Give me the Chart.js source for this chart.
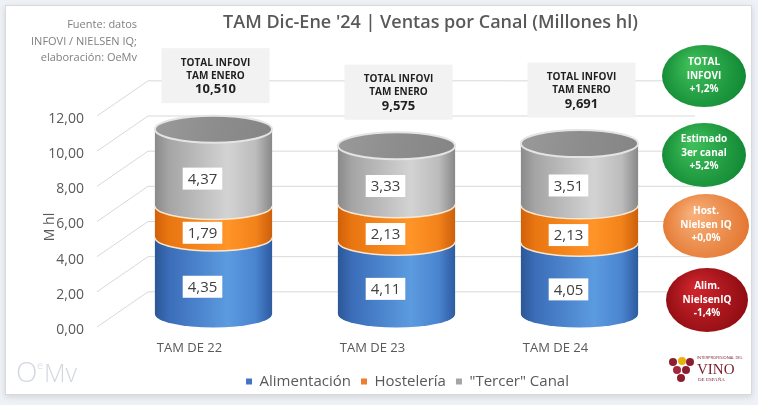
<!DOCTYPE html>
<html><head><meta charset="utf-8">
<script src="https://cdn.jsdelivr.net/npm/chart.js@4.4.1/dist/chart.umd.min.js"></script>
<style>html,body{margin:0;padding:0;background:#eef1f6;overflow:hidden}#wrap{width:758px;height:405px;position:relative}</style>
</head><body><div id="wrap"><canvas id="c" width="758" height="405"></canvas></div>
<script>
const categories = ['TAM DE 22', 'TAM DE 23', 'TAM DE 24'];
const seriesNames = ['Alimentación', 'Hostelería', '"Tercer" Canal'];
const alimentacion = [4.35, 4.11, 4.05];
const hosteleria = [1.79, 2.13, 2.13];
const tercerCanal = [4.37, 3.33, 3.51];
const totalInfovi = [10.510, 9.575, 9.691];
const totalLabel = ['TOTAL INFOVI', 'TAM ENERO'];
const badgeTexts = [
  ['TOTAL', 'INFOVI', '+1,2%'],
  ['Estimado', '3er canal', '+5,2%'],
  ['Host.', 'Nielsen IQ', '+0,0%'],
  ['Alim.', 'NielsenIQ', '-1,4%']
];
const sourceLines = ['Fuente: datos', 'INFOVI / NIELSEN IQ;', 'elaboración: OeMv'];
const yTitle = 'M hl';

const FONT = "'Open Sans', 'DejaVu Sans', sans-serif";
Chart.defaults.font.family = FONT;
Chart.defaults.color = '#595959';

const fmt = (v, d = 2) => Number(v).toFixed(d).replace('.', ',');

const segStops = [
  [[0, '#2c5797'], [0.12, '#3b6db8'], [0.62, '#5c9be0'], [0.86, '#4a84cf'], [1, '#2d5ba0']],
  [[0, '#d1600a'], [0.12, '#e97611'], [0.62, '#ff9428'], [0.86, '#f2821a'], [1, '#cc5f0c']],
  [[0, '#8a8a8a'], [0.12, '#a5a5a5'], [0.62, '#d3d3d3'], [0.86, '#bcbcbc'], [1, '#888888']]
];
function lgrad(c, l, r, stops) {
  const g = c.createLinearGradient(l, 0, r, 0);
  stops.forEach(s => g.addColorStop(s[0], s[1]));
  return g;
}

const deco = {
  id: 'deco',
  beforeDraw(chart) {
    const c = chart.ctx;
    c.save();
    c.fillStyle = '#eef1f6';
    c.fillRect(0, 0, chart.width, chart.height);
    c.shadowColor = 'rgba(0,0,0,0.12)'; c.shadowBlur = 6; c.shadowOffsetY = 2;
    c.fillStyle = '#ffffff';
    c.fillRect(5, 5, 747, 390);
    c.shadowColor = 'transparent';
    c.strokeStyle = '#d9d9d9'; c.lineWidth = 1;
    c.strokeRect(5.5, 5.5, 746, 389);
    c.restore();
  },
  afterLayout(chart) {
    chart.titleBlock.left += 76; chart.titleBlock.right += 76;
    chart.legend.left += 53; chart.legend.right += 53;
  },
  beforeDatasetsDraw(chart) {
    const c = chart.ctx, ys = chart.scales.y, a = chart.chartArea;
    const step = ys.getPixelForValue(0) - ys.getPixelForValue(2);
    c.save();
    c.strokeStyle = '#d9d9d9'; c.lineWidth = 1;
    ys.ticks.forEach(t => {
      const y0 = ys.getPixelForValue(t.value) + 13;
      c.beginPath();
      c.moveTo(a.left - 25, y0);
      c.lineTo(a.left + 26, y0 - step);
      c.lineTo(a.right + 24, y0 - step);
      c.stroke();
    });
    c.restore();
  },
  afterDatasetsDraw(chart) {
    const c = chart.ctx, ys = chart.scales.y;
    const metas = chart.data.datasets.map((d, i) => chart.getDatasetMeta(i));
    const ry = 13.5;
    c.save();
    categories.forEach((cat, j) => {
      metas.forEach((m, i) => {
        const el = m.data[j];
        const {x, y, base, width} = el.getProps(['x', 'y', 'base', 'width'], true);
        const l = x - width / 2, r = x + width / 2, rx = width / 2;
        c.beginPath();
        c.moveTo(l, y);
        c.lineTo(l, base);
        c.ellipse(x, base, rx, ry, 0, Math.PI, 0, true);
        c.lineTo(r, y);
        c.closePath();
        c.fillStyle = lgrad(c, l, r, segStops[i]);
        c.fill();
        if (i > 0) {
          c.beginPath();
          c.ellipse(x, base, rx, ry, 0, Math.PI, 0, true);
          c.strokeStyle = 'rgba(255,236,212,0.95)'; c.lineWidth = 1.5;
          c.stroke();
        }
        if (i === metas.length - 1) {
          c.beginPath();
          c.ellipse(x, y, rx, ry, 0, 0, Math.PI * 2);
          const g = c.createLinearGradient(l, y - ry, r, y + ry);
          g.addColorStop(0, '#9a9a9a'); g.addColorStop(0.5, '#8d8d8d'); g.addColorStop(1, '#858585');
          c.fillStyle = g; c.fill();
          c.strokeStyle = '#e4e4e4'; c.lineWidth = 2; c.stroke();
        }
      });
    });
    // value labels
    c.font = '15px ' + FONT;
    c.textAlign = 'center'; c.textBaseline = 'middle';
    metas.forEach((m, i) => {
      m.data.forEach((el, j) => {
        const {x, y, base} = el.getProps(['x', 'y', 'base'], true);
        const txt = fmt(chart.data.datasets[i].data[j]);
        const cx = x - 11, cy = (y + base) / 2 + 11;
        const w = c.measureText(txt).width + 10, h = 22;
        c.fillStyle = '#ffffff';
        c.fillRect(cx - w / 2, cy - h / 2, w, h);
        c.fillStyle = '#404040';
        c.fillText(txt, cx, cy + 1);
      });
    });
    // total boxes
    metas[0].data.forEach((el, j) => {
      const x = el.x + 2;
      const cy = ys.getPixelForValue(totalInfovi[j]) - 53.5;
      c.fillStyle = '#f2f2f2';
      c.fillRect(x - 54, cy - 27.5, 108, 55);
      c.fillStyle = '#1f1f1f';
      c.font = 'bold 10px ' + FONT;
      c.fillText(totalLabel[0], x, cy - 12.5);
      c.fillText(totalLabel[1], x, cy + 0.5);
      c.font = 'bold 13px ' + FONT;
      c.fillText(fmt(totalInfovi[j], 3), x, cy + 14);
    });
    c.restore();
  },
  afterDraw(chart) {
    const c = chart.ctx;
    c.save();
    // source note
    c.font = '11px ' + FONT; c.fillStyle = '#7f7f7f';
    c.textAlign = 'right'; c.textBaseline = 'middle';
    sourceLines.forEach((s, k) => c.fillText(s, 137, 25 + k * 16.5));
    // y title
    c.save();
    c.translate(50, 227); c.rotate(-Math.PI / 2);
    c.font = '14px ' + FONT; c.fillStyle = '#595959'; c.textAlign = 'center';
    c.fillText(yTitle, 0, 0);
    c.restore();
    // badges
    const geo = [[704, 76, 42, 31, 76], [704, 155, 42, 32, 153], [706, 226, 43, 32, 225], [707, 300, 41, 32, 300]];
    const cols = [['#3fbf5a', '#0e8532'], ['#3fbf5a', '#0e8532'], ['#f7b07a', '#e2722a'], ['#cf262d', '#8a0a10']];
    geo.forEach((g, k) => {
      const [cx, cy, rx, ry, ty] = g;
      const gr = c.createRadialGradient(cx - rx * 0.3, cy - ry * 0.4, 2, cx, cy, rx * 1.1);
      gr.addColorStop(0, cols[k][0]); gr.addColorStop(1, cols[k][1]);
      c.beginPath(); c.ellipse(cx, cy, rx, ry, 0, 0, Math.PI * 2);
      c.fillStyle = gr; c.fill();
      c.fillStyle = '#ffffff'; c.font = 'bold 10px ' + FONT; c.textAlign = 'center';
      badgeTexts[k].forEach((t, n) => c.fillText(t, cx, ty + (n - 1) * 13.5));
    });
    // OeMv logo
    c.fillStyle = '#d3d8e0'; c.textAlign = 'left'; c.textBaseline = 'alphabetic';
    c.font = '300 28px ' + FONT; c.fillText('O', 16, 382);
    c.font = '300 11px ' + FONT; c.fillText('e', 37, 369);
    c.font = '300 25px ' + FONT; c.fillText('Mv', 44, 382);
    // Vino de España logo
    const grapes = [[673, 362, '#8c1d2e'], [682, 361, '#e9b10c'], [690, 362, '#8c1d2e'], [677, 370, '#a3263a'], [686, 370, '#8c1d2e'], [681, 378, '#8c1d2e']];
    grapes.forEach(([gx, gy, col]) => { c.beginPath(); c.arc(gx, gy, 4, 0, Math.PI * 2); c.fillStyle = col; c.fill(); });
    c.fillStyle = '#7a1b2a';
    c.font = '4px ' + FONT; c.fillText('INTERPROFESIONAL DEL', 697, 359);
    c.font = '15px "Liberation Serif", serif'; c.fillText('VINO', 697, 374);
    c.font = '5px "Liberation Serif", serif'; c.fillText('DE ESPAÑA', 698, 381);
    c.restore();
  }
};

new Chart(document.getElementById('c'), {
  type: 'bar',
  data: {
    labels: categories,
    datasets: [
      {label: seriesNames[0], data: alimentacion, backgroundColor: '#4472C4'},
      {label: seriesNames[1], data: hosteleria, backgroundColor: '#ED7D31'},
      {label: seriesNames[2], data: tercerCanal, backgroundColor: '#A5A5A5'}
    ]
  },
  options: {
    responsive: false,
    animation: false,
    categoryPercentage: 0.8,
    barPercentage: 0.8,
    layout: {padding: {left: 38, right: 87, top: 4, bottom: 6}},
    plugins: {
      title: {display: true, text: "TAM Dic-Ene '24 | Ventas por Canal (Millones hl)", color: '#595959',
        font: {size: 18, weight: '600'}, padding: {top: 8, bottom: 69.4}},
      legend: {position: 'bottom', labels: {boxWidth: 6, boxHeight: 6, padding: 10, color: '#595959', font: {size: 15}}},
      tooltip: {enabled: false}
    },
    scales: {
      x: {stacked: true, grid: {display: false, drawTicks: false}, border: {display: false},
        ticks: {padding: 26, labelOffset: -24, color: '#595959', font: {size: 13}},
        afterFit(s) { s.height = 50; }},
      y: {stacked: true, min: 0, max: 12, grid: {display: false, drawTicks: false}, border: {display: false},
        ticks: {stepSize: 2, padding: 38, labelOffset: 16, color: '#595959', font: {size: 14}, callback: v => fmt(v)},
        afterFit(s) { s.width = 84; }}
    }
  },
  plugins: [deco]
});
</script>
</body></html>
